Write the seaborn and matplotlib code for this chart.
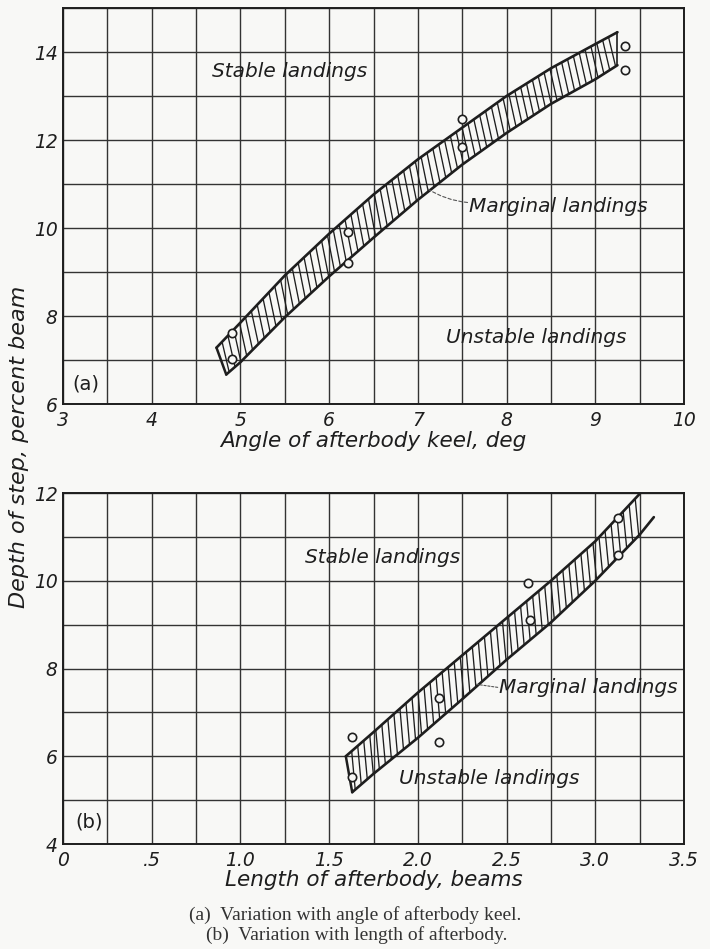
import numpy as np
import pandas as pd
import seaborn as sns
import matplotlib.pyplot as plt

# ---- panel (a): depth of step vs angle of afterbody keel ----
a_upper_x = [4.73, 5.0, 5.5, 6.0, 6.5, 7.0, 7.5, 8.0, 8.5, 9.0, 9.25]
a_upper_y = [7.28, 7.85, 8.92, 9.87, 10.76, 11.56, 12.28, 13.0, 13.63, 14.18, 14.45]
a_lower_x = [4.84, 5.0, 5.5, 6.0, 6.5, 7.0, 7.5, 8.0, 8.5, 9.0, 9.25]
a_lower_y = [6.67, 6.95, 7.97, 8.9, 9.78, 10.64, 11.44, 12.16, 12.82, 13.38, 13.70]
a_pts_x = [4.90, 4.90, 6.21, 6.21, 7.50, 7.50, 9.33, 9.33]
a_pts_y = [7.62, 7.03, 9.90, 9.20, 12.48, 11.84, 14.14, 13.59]
a_xticks = [3, 4, 5, 6, 7, 8, 9, 10]
a_xticklabels = ['3', '4', '5', '6', '7', '8', '9', '10']
a_yticks = [6, 8, 10, 12, 14]
a_yticklabels = ['6', '8', '10', '12', '14']

# ---- panel (b): depth of step vs length of afterbody ----
b_upper_x = [1.594, 1.75, 2.0, 2.25, 2.5, 2.75, 3.0, 3.25]
b_upper_y = [6.0, 6.55, 7.45, 8.3, 9.15, 10.0, 10.9, 11.98]
b_lower_x = [1.63, 1.75, 2.0, 2.25, 2.5, 2.75, 3.0, 3.25, 3.33]
b_lower_y = [5.18, 5.6, 6.42, 7.3, 8.2, 9.05, 10.0, 11.05, 11.45]
b_pts_x = [1.63, 1.63, 2.12, 2.12, 2.62, 2.63, 3.13, 3.13]
b_pts_y = [6.43, 5.52, 7.32, 6.32, 9.95, 9.11, 11.43, 10.59]
b_xticks = [0, 0.5, 1.0, 1.5, 2.0, 2.5, 3.0, 3.5]
b_xticklabels = ['0', '.5', '1.0', '1.5', '2.0', '2.5', '3.0', '3.5']
b_yticks = [4, 6, 8, 10, 12]
b_yticklabels = ['4', '6', '8', '10', '12']

BG = '#f8f8f6'
INK = '#1e1e1e'

sns.set_theme(style='white', rc={'axes.facecolor': BG, 'figure.facecolor': BG})
plt.rcParams['font.family'] = ['DejaVu Sans']
plt.rcParams['font.style'] = 'italic'


def hatch_band(ax, ux, uy, lx, ly, step, lean):
    # slanted hatch strokes joining the upper edge to the lower edge
    start = max(ux[0], lx[0] - lean) + step * 0.5
    stop = min(ux[-1], lx[-1] - lean)
    xs = np.arange(start, stop, step)
    hx, hy = [], []
    for x in xs:
        hx += [x, x + lean, np.nan]
        hy += [np.interp(x, ux, uy), np.interp(x + lean, lx, ly), np.nan]
    ax.plot(hx, hy, color=INK, lw=0.95)


def draw_band(ax, ux, uy, lx, ly, step, lean, close_right):
    up = pd.DataFrame({'x': ux, 'y': uy})
    lo = pd.DataFrame({'x': lx, 'y': ly})
    sns.lineplot(data=up, x='x', y='y', ax=ax, color=INK, lw=1.9, estimator=None, sort=False)
    sns.lineplot(data=lo, x='x', y='y', ax=ax, color=INK, lw=1.9, estimator=None, sort=False)
    ax.plot([ux[0], lx[0]], [uy[0], ly[0]], color=INK, lw=1.8)
    if close_right:
        ax.plot([ux[-1], lx[-1]], [uy[-1], ly[-1]], color=INK, lw=1.2)
    hatch_band(ax, ux, uy, lx, ly, step, lean)


def style_axes(ax, xlim, ylim, xminor, xticks, xlabels, yticks, ylabels):
    ax.set_xlim(*xlim)
    ax.set_ylim(*ylim)
    ax.set_xticks(np.arange(xlim[0], xlim[1] + 1e-9, xminor), minor=True)
    ax.set_yticks(np.arange(ylim[0], ylim[1] + 1e-9, 1), minor=True)
    ax.set_xticks(xticks)
    ax.set_xticklabels(xlabels)
    ax.set_yticks(yticks)
    ax.set_yticklabels(ylabels)
    ax.grid(True, which='both', color='#333333', lw=1.0)
    ax.tick_params(which='both', length=0, labelsize=13.5, colors=INK)
    ax.tick_params(axis='y', pad=4)
    ax.tick_params(axis='x', pad=5)
    for s in ax.spines.values():
        s.set_color(INK)
        s.set_linewidth(1.4)
    ax.set_ylabel('')


fig = plt.figure(figsize=(7.1, 9.49), dpi=100)
ax1 = fig.add_axes([63 / 710, 1 - 404 / 949, 621 / 710, 396 / 949])
ax2 = fig.add_axes([63 / 710, 1 - 844 / 949, 621 / 710, 351 / 949])

# panel (a)
draw_band(ax1, a_upper_x, a_upper_y, a_lower_x, a_lower_y, step=0.066, lean=0.08, close_right=True)
sns.scatterplot(x=a_pts_x, y=a_pts_y, ax=ax1, marker='o', s=36, facecolor=BG,
                edgecolor=INK, linewidth=1.2, zorder=5)
style_axes(ax1, (3, 10), (6, 15), 0.5, a_xticks, a_xticklabels, a_yticks, a_yticklabels)
ax1.set_xlabel('Angle of afterbody keel, deg', fontsize=15.5, color=INK, labelpad=1)
ax1.text(5.56, 13.55, 'Stable landings', fontsize=14.5, ha='center', va='center', color=INK)
ax1.text(8.33, 7.52, 'Unstable landings', fontsize=14.5, ha='center', va='center', color=INK)
ax1.text(7.58, 10.5, 'Marginal landings', fontsize=14.5, ha='left', va='center', color=INK)
ax1.annotate('', xy=(7.10, 10.9), xytext=(7.56, 10.58),
             arrowprops=dict(arrowstyle='-', linestyle=(0, (3, 2)), color='#555555', lw=0.8,
                             connectionstyle='arc3,rad=-0.12', shrinkA=0, shrinkB=0))
ax1.text(3.11, 6.45, '(a)', fontsize=14, ha='left', va='center', color=INK, fontstyle='normal')

# panel (b)
draw_band(ax2, b_upper_x, b_upper_y, b_lower_x, b_lower_y, step=0.034, lean=0.02, close_right=False)
sns.scatterplot(x=b_pts_x, y=b_pts_y, ax=ax2, marker='o', s=36, facecolor=BG,
                edgecolor=INK, linewidth=1.2, zorder=5)
style_axes(ax2, (0, 3.5), (4, 12), 0.25, b_xticks, b_xticklabels, b_yticks, b_yticklabels)
ax2.set_xlabel('Length of afterbody, beams', fontsize=15.5, color=INK, labelpad=0)
ax2.text(1.80, 10.53, 'Stable landings', fontsize=14.5, ha='center', va='center', color=INK)
ax2.text(2.40, 5.50, 'Unstable landings', fontsize=14.5, ha='center', va='center', color=INK)
ax2.text(2.46, 7.57, 'Marginal landings', fontsize=14.5, ha='left', va='center', color=INK)
ax2.annotate('', xy=(2.33, 7.64), xytext=(2.45, 7.57),
             arrowprops=dict(arrowstyle='-', linestyle=(0, (2, 1.5)), color='#555555', lw=0.8,
                             shrinkA=0, shrinkB=0))
ax2.text(0.07, 4.5, '(b)', fontsize=14, ha='left', va='center', color=INK, fontstyle='normal')

fig.text(19 / 710, 1 - 447 / 949, 'Depth of step, percent beam', rotation=90, fontsize=16,
         ha='center', va='center', color=INK)

fig.text(0.5, 1 - 915 / 949, '(a)  Variation with angle of afterbody keel.', fontsize=14,
         family='Liberation Serif', fontstyle='normal', ha='center', va='center', color='#333333')
fig.text(0.503, 1 - 935 / 949, '(b)  Variation with length of afterbody.', fontsize=14,
         family='Liberation Serif', fontstyle='normal', ha='center', va='center', color='#333333')

fig.savefig('out.png', dpi=100, facecolor=BG)
